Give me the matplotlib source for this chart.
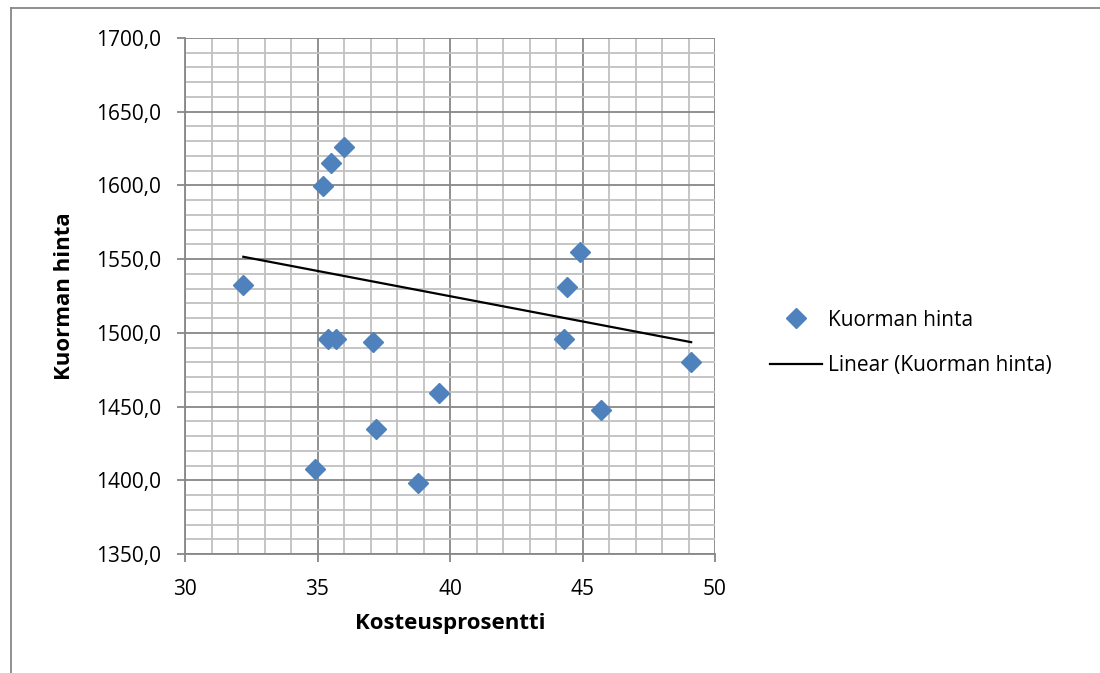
import matplotlib
matplotlib.use("Agg")
import matplotlib.pyplot as plt
from matplotlib.ticker import MultipleLocator, FuncFormatter
from matplotlib.lines import Line2D

plt.rcParams['font.family'] = ['Open Sans', 'DejaVu Sans']

# Data
moisture = [32.2, 34.9, 35.2, 35.4, 35.5, 35.7, 36.0, 37.1, 37.2, 38.8,
            39.6, 44.3, 44.4, 44.9, 45.7, 49.1]
price = [1532.6, 1407.5, 1599.3, 1496.0, 1615.0, 1496.0, 1626.0, 1494.0,
         1434.5, 1398.0, 1459.0, 1496.0, 1531.0, 1555.0, 1447.5, 1480.0]
# Linear trendline as drawn in the reference (start / end)
trend_x = [32.2, 49.1]
trend_y = [1551.6, 1493.7]

series_name = "Kuorman hinta"
trend_name = "Linear (Kuorman hinta)"
x_title = "Kosteusprosentti"
y_title = "Kuorman hinta"

fig = plt.figure(figsize=(11, 6.73), dpi=100)
ax = fig.add_axes([185/1100, 1-554/673, (715-185)/1100, (554-38)/673])

ax.set_xlim(30, 50)
ax.set_ylim(1350, 1700)
ax.xaxis.set_major_locator(MultipleLocator(5))
ax.xaxis.set_minor_locator(MultipleLocator(1))
ax.yaxis.set_major_locator(MultipleLocator(50))
ax.yaxis.set_minor_locator(MultipleLocator(10))
ax.yaxis.set_major_formatter(FuncFormatter(lambda v, p: f"{v:.1f}".replace('.', ',')))

ax.grid(which='minor', color='#C0C0C0', linewidth=1.3, zorder=0)
ax.grid(which='major', color='#878787', linewidth=1.3, zorder=0)
ax.set_axisbelow(True)

for s in ['top', 'right']:
    ax.spines[s].set_visible(False)
for s in ['left', 'bottom']:
    ax.spines[s].set_color('#878787')
    ax.spines[s].set_linewidth(1.3)

ax.tick_params(which='major', direction='out', length=6, width=1.3, color='#878787',
               labelsize=15)
ax.tick_params(axis='y', which='major', pad=11)
ax.tick_params(axis='x', which='major', pad=12)
ax.tick_params(which='minor', length=0)

ax.plot(moisture, price, linestyle='none', marker='D', markersize=10,
        color='#4F81BD', zorder=3, clip_on=False)
ax.plot(trend_x, trend_y, color='black', linewidth=1.6, zorder=2)

ax.set_xlabel(x_title, fontsize=16, fontweight='bold', labelpad=9)
ax.set_ylabel(y_title, fontsize=16, fontweight='bold', labelpad=15)

handles = [Line2D([], [], linestyle='none', marker='D', markersize=10, color='#4F81BD'),
           Line2D([], [], color='black', linewidth=1.6)]
fig.legend(handles, [series_name, trend_name], loc='center left',
           bbox_to_anchor=(751/1100, 1-343/673), frameon=False, fontsize=15,
           handlelength=2.5, handletextpad=0.3, labelspacing=1.2)

# chart area border (left and top)
fig.add_artist(Line2D([11/1100, 11/1100], [0, 1-8/673], color='#878787', linewidth=1.3,
                      transform=fig.transFigure))
fig.add_artist(Line2D([11/1100, 1], [1-8/673, 1-8/673], color='#878787', linewidth=1.3,
                      transform=fig.transFigure))

fig.savefig("out.png", dpi=100)
